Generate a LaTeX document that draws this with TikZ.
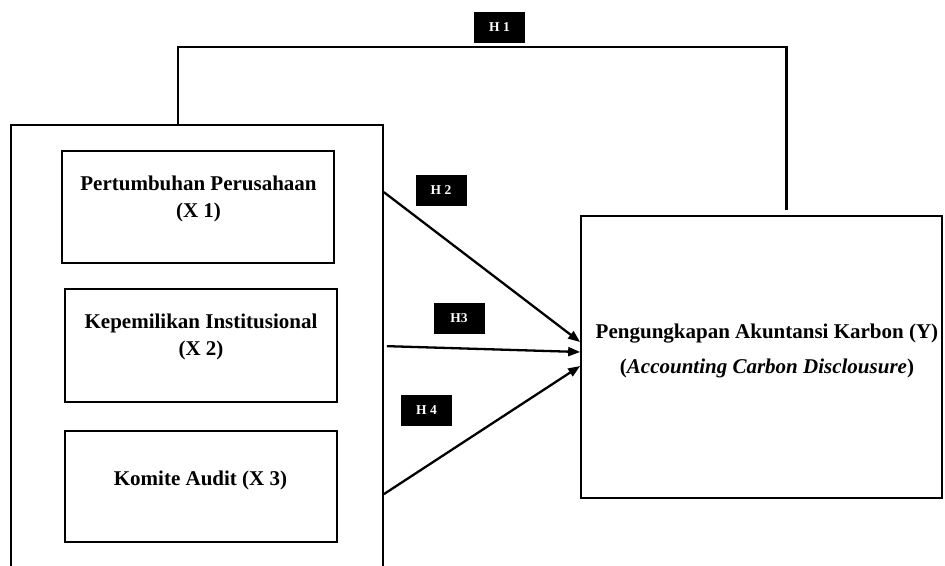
\documentclass[tikz,border=0pt]{standalone}
\usepackage{fontspec}
\setmainfont{Liberation Serif}
\usetikzlibrary{arrows.meta,calc}
\begin{document}
\begin{tikzpicture}[x=1pt,y=-1pt,
  boxstyle/.style={draw,line width=1.7pt,inner sep=0pt,rectangle},
  hlabel/.style={fill=black,text=white,inner sep=0pt,minimum width=51pt,minimum height=31pt,font=\fontsize{13.5}{15}\selectfont\bfseries},
  maintext/.style={align=center,inner sep=0pt,font=\fontsize{21}{27}\selectfont\bfseries},
  conn/.style={line width=2.3pt,-{Triangle[length=12pt,width=9pt]}},
  plainconn/.style={line width=2.3pt}]
\path[use as bounding box,clip] (0,0) rectangle (945,565);
% outer group box (bottom runs off the picture)
\node[boxstyle,minimum width=372pt,minimum height=460pt] (outer) at (197,355) {};
% independent variables
\node[boxstyle,minimum width=272pt,minimum height=112pt] (x1) at (198,207) {};
\node[maintext] (x1t) at (198.5,198.5) {Pertumbuhan Perusahaan\\(X 1)};
\node[boxstyle,minimum width=272pt,minimum height=113pt] (x2) at (201,345.5) {};
\node[maintext] (x2t) at (201,336.5) {Kepemilikan Institusional\\(X 2)};
\node[boxstyle,minimum width=272pt,minimum height=111pt] (x3) at (201,486.5) {};
\node[maintext] (x3t) at (200.5,480) {Komite Audit (X 3)};
% dependent variable
\node[boxstyle,minimum width=361pt,minimum height=282pt] (y) at (761.5,357) {};
\node[maintext] (yt) at (767,350.5) {Pengungkapan Akuntansi Karbon (Y)\\[8pt](\textit{Accounting Carbon Disclousure})};
% hypothesis labels
\node[hlabel] (h1) at (499.5,27.5) {H 1};
\node[hlabel] (h2) at (441,190.5) {H 2};
\node[hlabel] (h3) at (459,318.5) {H3};
\node[hlabel] (h4) at (426.5,410.5) {H 4};
% connectors
\draw[plainconn] ([xshift=-19pt]outer.north) -- ++(0,-77) -| ([xshift=25pt,yshift=5pt]y.north);
\draw[conn] ([yshift=-68pt]outer.north east) -- ([yshift=15pt]y.west);
\draw[conn] ([xshift=3pt,yshift=-222pt]outer.north east) -- ([yshift=5pt]y.west);
\draw[conn] ([yshift=-370pt]outer.north east) -- ([yshift=-9pt]y.west);
\end{tikzpicture}
\end{document}
